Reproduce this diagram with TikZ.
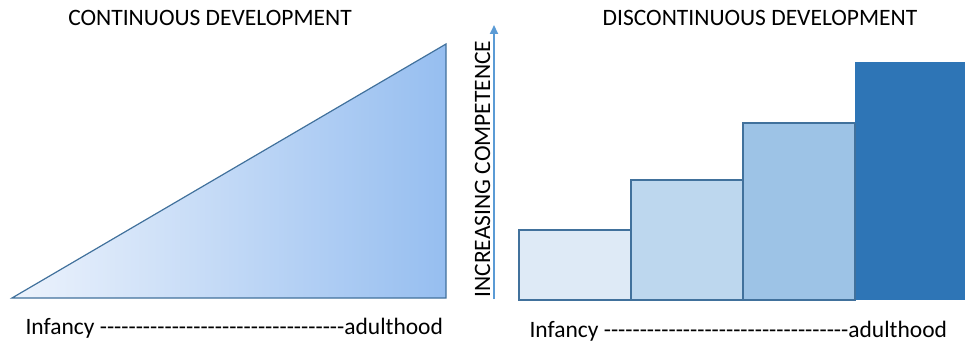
\documentclass[tikz,border=0pt]{standalone}
\usepackage{fontspec}
\setmainfont{Carlito}[Ligatures=TeXOff]
\usetikzlibrary{arrows.meta}
\definecolor{edge}{HTML}{41719C}
\definecolor{axis}{HTML}{5B9BD5}
\definecolor{stepA}{HTML}{DEEAF6}
\definecolor{stepB}{HTML}{BDD7EE}
\definecolor{stepC}{HTML}{9DC3E6}
\definecolor{stepD}{HTML}{2E75B6}
\definecolor{rampL}{HTML}{EDF3FC}
\definecolor{rampR}{HTML}{96BEF0}
\tikzset{
  title/.style={font=\fontsize{23.5}{28}\selectfont, anchor=base},
  label/.style={font=\fontsize{23.5}{28}\selectfont, anchor=base west},
  bar/.style={draw=edge, line width=1.2pt}
}
\newcommand{\agedashes}{Infancy ----------------------------------adulthood}
\begin{document}
\begin{tikzpicture}[x=1pt, y=-1pt]
\useasboundingbox (0,0) rectangle (965,350);
% continuous: a smooth ramp
\coordinate (R0) at (12,298);
\coordinate (R1) at (446,298);
\coordinate (R2) at (446,44);
\shade[left color=rampL, right color=rampR] (R0) -- (R1) -- (R2) -- cycle;
\draw[edge, line width=1.2pt, line join=miter] (R0) -- (R1) -- (R2) -- cycle;
\node[title] (contT) at (210,26) {CONTINUOUS DEVELOPMENT};
\node[label] (contL) at (22,334) {\agedashes};
% competence axis
\coordinate (A0) at (494,299);
\coordinate (A1) at (494,25);
\draw[axis, line width=2pt, -{Triangle[length=9pt, width=8pt]}] (A0) -- (A1);
\node[font=\fontsize{23.5}{28}\selectfont, rotate=90, anchor=base west]
  (axisT) at (490,301) {INCREASING COMPETENCE};
% discontinuous: four steps
\foreach \k/\x/\top/\c in {1/519/230/stepA, 2/631/180/stepB, 3/743/123/stepC}
  {\draw[bar, fill=\c] (\x,300) rectangle (\x+112,\top);};
\fill[stepD] (855,300) rectangle (965,62);
\draw[edge, line width=1.2pt] (855,300) -- (855,123);
\node[title] (discT) at (760,26) {DISCONTINUOUS DEVELOPMENT};
\node[label] (discL) at (526,337) {\agedashes};
\end{tikzpicture}
\end{document}
